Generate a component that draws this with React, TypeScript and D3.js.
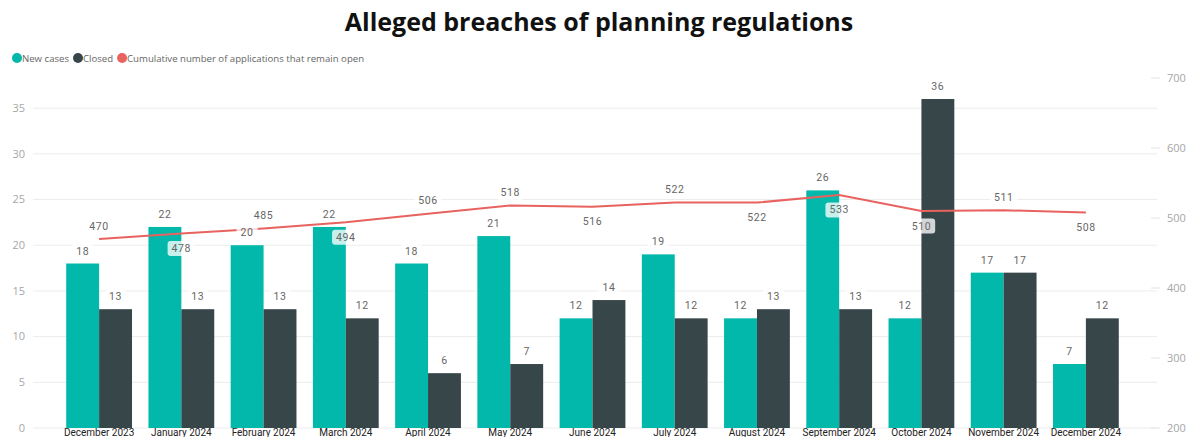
import React, { useEffect, useRef } from "react";
import * as d3 from "d3";

const categories = [
  "December 2023", "January 2024", "February 2024", "March 2024", "April 2024", "May 2024",
  "June 2024", "July 2024", "August 2024", "September 2024", "October 2024", "November 2024", "December 2024",
];
const newCases = [18, 22, 20, 22, 18, 21, 12, 19, 12, 26, 12, 17, 7];
const closedCases = [13, 13, 13, 12, 6, 7, 14, 12, 13, 13, 36, 17, 12];
const openCumulative = [470, 478, 485, 494, 506, 518, 516, 522, 522, 533, 510, 511, 508];
const lineLabelSide = ["above", "below", "above", "below", "above", "above", "below", "above", "below", "below", "below", "above", "below"];
const leftTicks = [0, 5, 10, 15, 20, 25, 30, 35];
const rightTicks = [200, 300, 400, 500, 600, 700];
const seriesNames = ["New cases", "Closed", "Cumulative number of applications that remain open"];

const TEAL = "#01B8AA";
const DARK = "#374649";
const RED = "#E8625F";

export default function App() {
  const ref = useRef<SVGSVGElement | null>(null);

  useEffect(() => {
    const svg = d3.select(ref.current);
    svg.selectAll("*").remove();
    const W = 1190, H = 437;
    svg.append("rect").attr("width", W).attr("height", H).attr("fill", "#fff");

    const x = d3.scaleBand<string>().domain(categories).range([58, 1127]).paddingInner(0.2).paddingOuter(0.1);
    const xs = d3.scaleBand<string>().domain(["new", "closed"]).range([0, x.bandwidth()]);
    const yL = d3.scaleLinear().domain([0, 38.3]).range([428, 78]);
    const yR = d3.scaleLinear().domain([200, 700]).range([428, 78]);

    // title
    svg.append("text").attr("x", 599).attr("y", 31).attr("text-anchor", "middle")
      .attr("font-family", "'Open Sans', sans-serif").attr("font-weight", 700).attr("font-size", 25)
      .attr("fill", "#111").text("Alleged breaches of planning regulations");

    // legend
    const leg = svg.append("g");
    const legColors = [TEAL, DARK, RED];
    let lx = 17;
    seriesNames.forEach((n, i) => {
      leg.append("circle").attr("cx", lx).attr("cy", 58).attr("r", 5).attr("fill", legColors[i]);
      const t = leg.append("text").attr("x", lx + 5).attr("y", 61.5)
        .attr("font-family", "'Open Sans', sans-serif").attr("font-size", 9.6).attr("fill", "#666").text(n);
      const w = (t.node() as SVGTextElement).getComputedTextLength();
      lx = lx + 5 + w + 9;
    });

    // gridlines
    const grid = svg.append("g");
    leftTicks.forEach((v) => {
      grid.append("line").attr("x1", 33).attr("x2", 1157).attr("y1", yL(v)).attr("y2", yL(v))
        .attr("stroke", "#ececec").attr("stroke-width", 1);
      grid.append("text").attr("x", 25).attr("y", yL(v)).attr("dy", "0.35em").attr("text-anchor", "end")
        .attr("font-family", "'Open Sans', sans-serif").attr("font-size", 11).attr("fill", "#a6a6a6").text(v);
    });
    rightTicks.forEach((v) => {
      grid.append("line").attr("x1", 1151).attr("x2", 1160).attr("y1", yR(v)).attr("y2", yR(v))
        .attr("stroke", "#e4e4e4").attr("stroke-width", 1);
      grid.append("text").attr("x", 1167).attr("y", yR(v)).attr("dy", "0.35em").attr("text-anchor", "start")
        .attr("font-family", "'Open Sans', sans-serif").attr("font-size", 11).attr("fill", "#a6a6a6").text(v);
    });

    // bars
    const bars = svg.append("g");
    categories.forEach((c, i) => {
      const x0 = x(c)!;
      bars.append("rect").attr("x", x0 + xs("new")!).attr("width", xs.bandwidth())
        .attr("y", yL(newCases[i])).attr("height", yL(0) - yL(newCases[i])).attr("fill", TEAL);
      bars.append("rect").attr("x", x0 + xs("closed")!).attr("width", xs.bandwidth())
        .attr("y", yL(closedCases[i])).attr("height", yL(0) - yL(closedCases[i])).attr("fill", DARK);
    });

    // x labels
    categories.forEach((c) => {
      svg.append("text").attr("x", x(c)! + x.bandwidth() / 2).attr("y", 436).attr("text-anchor", "middle")
        .attr("font-family", "Roboto, sans-serif").attr("font-size", 10).attr("fill", "#222").text(c);
    });

    // line
    const line = d3.line<number>().x((_, i) => x(categories[i])! + x.bandwidth() / 2).y((d) => yR(d));
    svg.append("path").datum(openCumulative).attr("d", line).attr("fill", "none")
      .attr("stroke", RED).attr("stroke-width", 2);

    // labels with translucent background
    const labels = svg.append("g");
    const addLabel = (cx: number, baseline: number, txt: string) => {
      const g = labels.append("g");
      const r = g.append("rect");
      const t = g.append("text").attr("x", cx).attr("y", baseline).attr("text-anchor", "middle")
        .attr("font-family", "Roboto, sans-serif").attr("font-size", 10.5).attr("letter-spacing", 0.6)
        .attr("fill", "#666").text(txt);
      const w = (t.node() as SVGTextElement).getComputedTextLength();
      r.attr("x", cx - w / 2 - 4).attr("y", baseline - 11).attr("width", w + 8).attr("height", 15)
        .attr("rx", 3).attr("fill", "#fff").attr("fill-opacity", 0.78);
    };
    categories.forEach((c, i) => {
      const x0 = x(c)!;
      addLabel(x0 + xs("new")! + xs.bandwidth() / 2, yL(newCases[i]) - 9, String(newCases[i]));
      addLabel(x0 + xs("closed")! + xs.bandwidth() / 2, yL(closedCases[i]) - 9, String(closedCases[i]));
    });
    categories.forEach((c, i) => {
      const cx = x(c)! + x.bandwidth() / 2;
      const py = yR(openCumulative[i]);
      const base = lineLabelSide[i] === "above" ? py - 9.5 : py + 18.5;
      addLabel(cx, base, String(openCumulative[i]));
    });
  }, []);

  return (
    <svg ref={ref} width={1190} height={437}
      style={{ position: "absolute", left: 0, top: 0, display: "block" }} />
  );
}
